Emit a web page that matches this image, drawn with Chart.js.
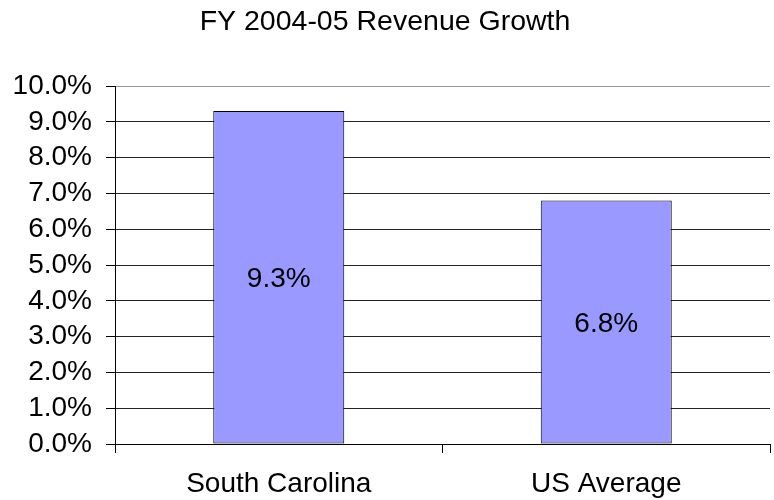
<!DOCTYPE html>
<html>
<head>
<meta charset="utf-8">
<script src="https://cdn.jsdelivr.net/npm/chart.js@4.4.0/dist/chart.umd.min.js"></script>
<style>
html,body{margin:0;padding:0;background:#fff;}
#wrap{width:774px;height:500px;position:relative;}
</style>
</head>
<body>
<div id="wrap"><canvas id="c"></canvas></div>
<script>
const categories = ["South Carolina", "US Average"];
const growthValues = [9.3, 6.8];
const yTickValues = [0, 1, 2, 3, 4, 5, 6, 7, 8, 9, 10];
const chartTitle = "FY 2004-05 Revenue Growth";

const FONT = '"Liberation Sans", Arial, sans-serif';

const barLabels = {
  id: 'barLabels',
  afterDatasetsDraw(chart) {
    const ctx = chart.ctx;
    const meta = chart.getDatasetMeta(0);
    ctx.save();
    ctx.font = '28px ' + FONT;
    ctx.fillStyle = '#000';
    ctx.textAlign = 'center';
    ctx.textBaseline = 'middle';
    meta.data.forEach((el, i) => {
      const v = chart.data.datasets[0].data[i];
      ctx.fillText(v.toFixed(1) + '%', el.x, (el.y + el.base) / 2 + 2);
    });
    ctx.restore();
  }
};

new Chart(document.getElementById('c'), {
  type: 'bar',
  data: {
    labels: categories,
    datasets: [{
      data: growthValues,
      backgroundColor: '#9999FF',
      borderColor: '#000',
      borderWidth: 1,
      borderSkipped: false,
      barPercentage: 0.4,
      categoryPercentage: 1.0
    }]
  },
  options: {
    responsive: true,
    maintainAspectRatio: false,
    animation: false,
    layout: { padding: { left: 0, right: 4, top: 0, bottom: 0 } },
    plugins: {
      legend: { display: false },
      tooltip: { enabled: false },
      title: {
        display: true,
        text: chartTitle,
        color: '#000',
        font: { family: FONT, size: 28.5, weight: 'normal', lineHeight: 1.2 },
        padding: { top: 5, bottom: 46.8 }
      }
    },
    scales: {
      x: {
        offset: true,
        grid: {
          offset: true,
          drawOnChartArea: true,
          color: ctx => ctx.index === categories.length ? '#999' : 'rgba(0,0,0,0)',
          tickColor: ctx => ctx.index === categories.length ? '#999' : '#000',
          tickLength: 9,
          lineWidth: 1
        },
        border: { display: true, color: '#000', width: 1 },
        ticks: {
          color: '#000',
          font: { family: FONT, size: 28 },
          padding: 14,
          maxRotation: 0,
          autoSkip: false
        },
        afterFit(scale) { scale.height = 56; }
      },
      y: {
        min: 0,
        max: 10,
        afterBuildTicks(scale) { scale.ticks = yTickValues.map(v => ({ value: v })); },
        grid: {
          color: ctx => (ctx.tick && ctx.tick.value === 10) ? '#999' : '#222',
          tickColor: '#000',
          tickLength: 9,
          lineWidth: 1
        },
        border: { display: true, color: '#000', width: 1 },
        ticks: {
          color: '#000',
          font: { family: FONT, size: 28 },
          padding: 14,
          autoSkip: false,
          callback: v => Number(v).toFixed(1) + '%'
        },
        afterFit(scale) { scale.width = 115; }
      }
    }
  },
  plugins: [barLabels]
});
</script>
</body>
</html>
